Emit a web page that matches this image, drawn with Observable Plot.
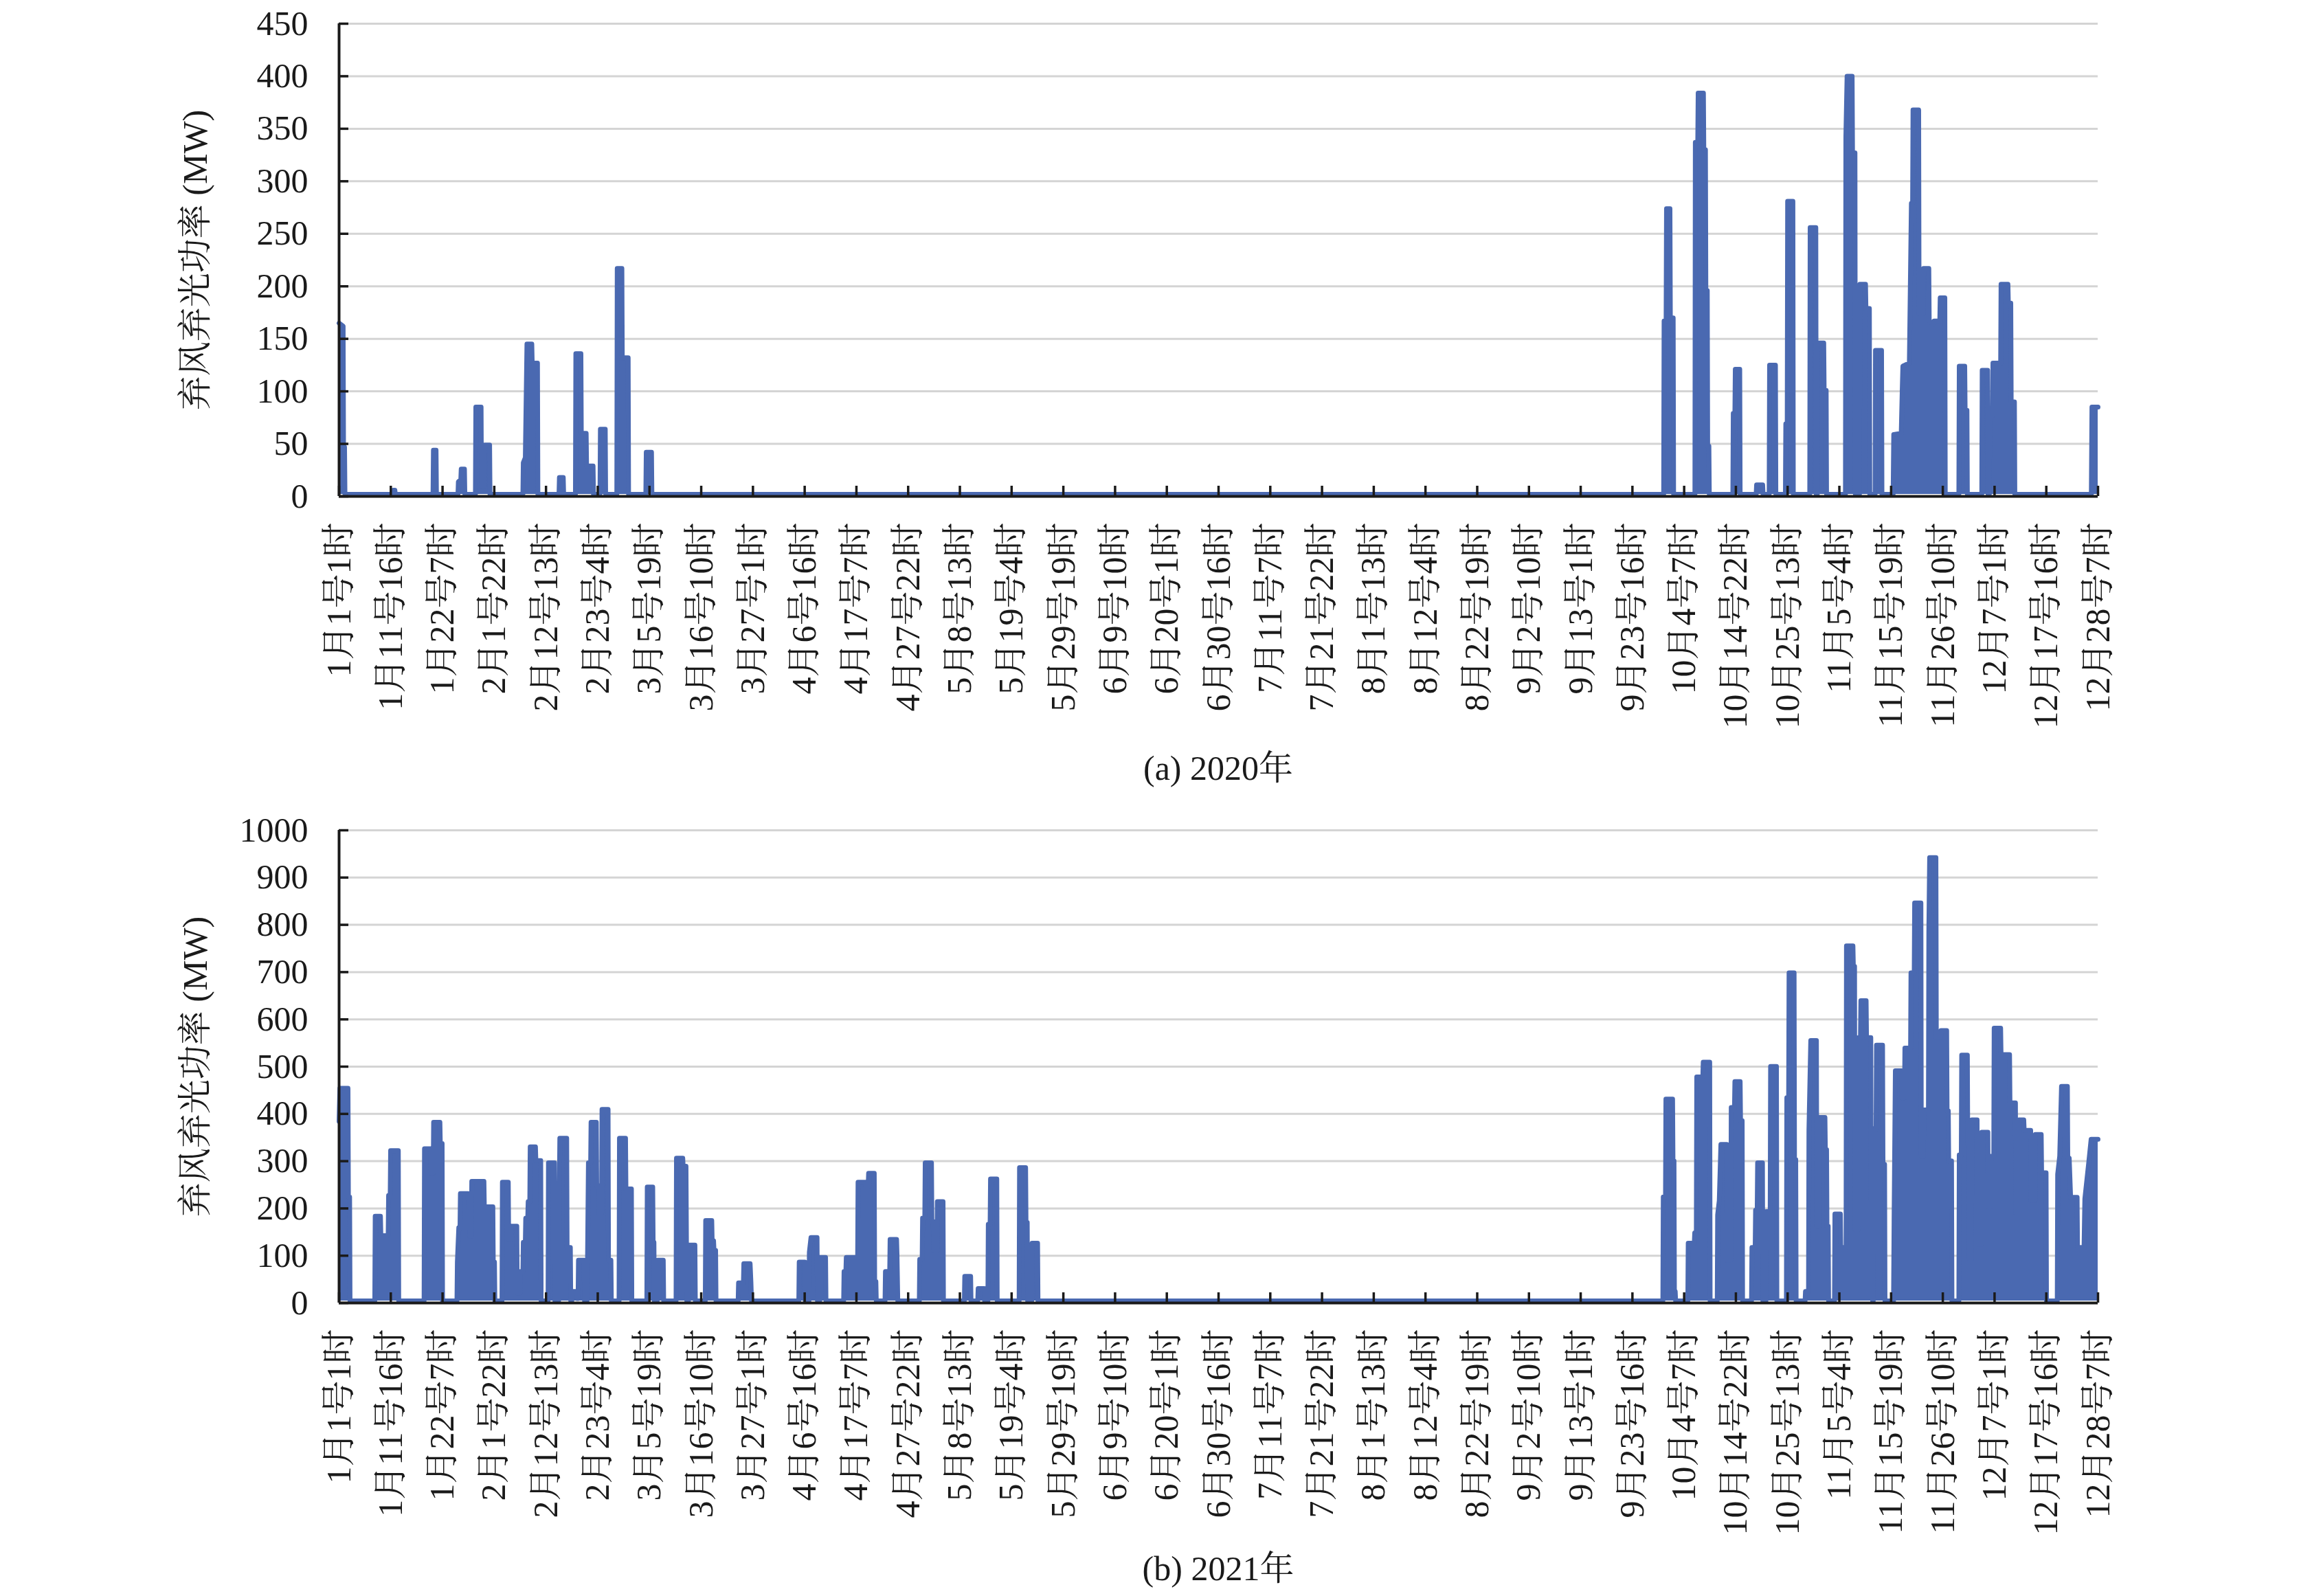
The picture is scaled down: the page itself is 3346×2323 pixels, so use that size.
<!DOCTYPE html>
<html>
<head>
<meta charset="utf-8">
<script src="https://cdn.jsdelivr.net/npm/d3@7"></script>
<script src="https://cdn.jsdelivr.net/npm/@observablehq/plot@0.6"></script>
<style>
html, body { margin: 0; padding: 0; background: #fff; }
#page { position: relative; width: 3346px; height: 2323px; overflow: hidden;
  font-family: "Liberation Serif", "Noto Serif CJK SC", "Noto Sans CJK SC", serif; color: #1a1a1a; }
.chart { position: absolute; left: 0; }
.cap { position: absolute; left: 493px; width: 2560px; text-align: center; font-size: 50px; line-height: 60px; }
</style>
</head>
<body>
<div id="page"></div>
<script>
// ---------- data ----------
const xTickHours = [0,255,510,765,1020,1275,1530,1785,2040,2295,2550,2805,3060,3315,3570,3825,4080,4335,4590,4845,5100,5355,5610,5865,6120,6375,6630,6885,7140,7395,7650,7905,8160,8415,8670];
const xTickLabels = ["1月1号1时","1月11号16时","1月22号7时","2月1号22时","2月12号13时","2月23号4时","3月5号19时","3月16号10时","3月27号1时","4月6号16时","4月17号7时","4月27号22时","5月8号13时","5月19号4时","5月29号19时","6月9号10时","6月20号1时","6月30号16时","7月11号7时","7月21号22时","8月1号13时","8月12号4时","8月22号19时","9月2号10时","9月13号1时","9月23号16时","10月4号7时","10月14号22时","10月25号13时","11月5号4时","11月15号19时","11月26号10时","12月7号1时","12月17号16时","12月28号7时"];
const yTicks2020 = [0,50,100,150,200,250,300,350,400,450];
const yTicks2021 = [0,100,200,300,400,500,600,700,800,900,1000];
const yTitle = "弃风弃光功率 (MW)";
const captions = ["(a) 2020年", "(b) 2021年"];

// [hour index, curtailed power MW]
const curtail2020 = [
 [0,163],[20,160],[22,45],[27,45],[29,0],
 [265,0],[267,4],[275,4],[277,0],
 [463,0],[465,42],[478,42],[480,0],
 [586,0],[588,12],[600,14],[602,24],[618,24],[620,0],
 [672,0],[674,83],[700,83],[702,8],[716,8],[718,47],[742,47],[744,0],
 [906,0],[908,30],[918,35],[926,143],[950,143],[952,125],[978,125],[980,0],
 [1084,0],[1086,16],[1105,16],[1107,0],
 [1165,0],[1167,134],[1192,134],[1194,58],[1218,58],[1220,27],[1252,27],[1254,0],
 [1286,0],[1288,62],[1312,62],[1314,0],
 [1369,0],[1371,215],[1394,215],[1396,130],[1425,130],[1427,0],
 [1512,0],[1514,40],[1540,40],[1542,0],
 [6529,0],[6531,165],[6541,165],[6543,272],[6560,272],[6562,168],[6576,168],[6578,0],
 [6683,0],[6685,335],[6697,335],[6699,382],[6725,382],[6727,328],[6735,328],[6737,194],[6744,194],[6746,46],[6752,46],[6754,0],
 [6870,0],[6872,77],[6880,77],[6882,119],[6904,119],[6906,0],
 [6985,0],[6987,9],[7017,9],[7019,0],
 [7049,0],[7051,123],[7080,123],[7082,0],
 [7129,0],[7131,67],[7138,67],[7140,279],[7166,279],[7168,0],
 [7249,0],[7251,254],[7279,254],[7281,0],
 [7286,0],[7288,144],[7318,144],[7320,99],[7330,99],[7332,0],
 [7425,0],[7427,340],[7433,398],[7458,398],[7460,325],[7472,325],[7474,0],
 [7494,0],[7496,200],[7524,200],[7526,177],[7543,177],[7545,0],
 [7571,0],[7573,137],[7603,137],[7605,0],
 [7660,0],[7663,57],[7700,58],[7705,100],[7708,122],[7740,125],[7750,277],[7756,277],[7758,366],[7786,366],[7788,172],[7808,172],[7810,215],[7836,215],[7838,165],[7860,162],[7862,165],[7890,165],[7892,187],[7915,187],[7917,0],
 [7984,0],[7986,122],[8013,122],[8015,80],[8024,80],[8026,0],
 [8097,0],[8099,118],[8126,118],[8128,0],
 [8134,0],[8136,75],[8150,75],[8152,125],[8190,125],[8192,200],[8226,200],[8228,182],[8240,182],[8242,88],[8258,88],[8260,0],
 [8637,0],[8640,83],[8670,83]
];

const curtail2021 = [
 [0,380],[4,450],[44,450],[46,220],[52,220],[54,0],
 [176,0],[178,179],[204,179],[206,138],[242,138],[244,223],[252,223],[254,318],[292,318],[294,0],
 [419,0],[421,322],[452,322],[454,271],[464,271],[466,378],[497,378],[499,333],[508,333],[510,0],
 [581,0],[583,82],[590,155],[596,155],[598,227],[636,227],[638,196],[642,196],[644,137],[652,137],[654,253],[714,253],[716,199],[758,199],[760,82],[766,82],[768,0],
 [803,0],[805,251],[834,251],[836,130],[846,130],[848,158],[876,158],[878,17],[892,17],[894,62],[906,62],[908,124],[918,124],[920,175],[930,175],[932,210],[940,210],[942,326],[968,326],[970,297],[994,297],[996,0],
 [1030,0],[1032,292],[1062,292],[1064,0],
 [1082,0],[1084,161],[1088,344],[1122,344],[1124,113],[1140,113],[1142,0],
 [1147,0],[1149,20],[1171,20],[1173,5],[1178,5],[1180,86],[1208,86],[1210,0],
 [1222,0],[1224,60],[1229,292],[1240,292],[1242,378],[1268,378],[1270,244],[1280,244],[1282,186],[1294,186],[1296,405],[1326,405],[1328,86],[1340,86],[1342,0],
 [1380,0],[1382,344],[1412,344],[1414,237],[1441,237],[1443,0],
 [1517,0],[1519,241],[1546,241],[1548,124],[1552,124],[1554,0],
 [1568,0],[1570,86],[1598,86],[1600,0],
 [1661,0],[1663,302],[1694,302],[1696,285],[1710,285],[1714,0],
 [1722,0],[1724,118],[1754,118],[1756,0],
 [1805,0],[1807,170],[1837,170],[1839,127],[1846,127],[1848,107],[1856,107],[1858,0],
 [1967,0],[1969,38],[1993,38],[1995,79],[2026,79],[2030,40],[2033,0],
 [2266,0],[2268,82],[2296,82],[2298,0],
 [2316,0],[2318,103],[2326,134],[2356,134],[2358,0],
 [2369,0],[2371,92],[2398,92],[2400,0],
 [2487,0],[2489,62],[2498,62],[2500,92],[2556,92],[2558,251],[2595,251],[2597,242],[2608,242],[2610,270],[2638,270],[2640,41],[2646,41],[2648,0],
 [2691,0],[2693,62],[2714,62],[2716,130],[2748,130],[2750,100],[2754,0],
 [2860,0],[2862,88],[2874,88],[2876,175],[2887,175],[2889,292],[2920,292],[2922,168],[2929,168],[2931,106],[2947,106],[2949,210],[2977,210],[2979,0],
 [3082,0],[3084,52],[3113,52],[3115,0],
 [3148,0],[3150,26],[3180,26],[3182,0],
 [3198,0],[3200,162],[3209,162],[3211,258],[3242,258],[3244,0],
 [3352,0],[3354,282],[3384,282],[3386,166],[3392,166],[3394,0],
 [3414,0],[3416,122],[3443,122],[3445,0],
 [6525,0],[6527,220],[6538,220],[6540,427],[6573,427],[6575,296],[6580,296],[6582,20],[6586,20],[6588,0],
 [6648,0],[6650,122],[6680,122],[6682,144],[6690,144],[6692,474],[6722,474],[6724,505],[6756,505],[6758,0],
 [6793,0],[6795,182],[6803,212],[6811,331],[6840,331],[6842,86],[6860,86],[6862,409],[6878,409],[6880,464],[6906,464],[6908,381],[6916,381],[6918,0],
 [6962,0],[6964,113],[6980,113],[6982,192],[6990,192],[6992,292],[7016,292],[7018,0],
 [7033,0],[7035,189],[7054,189],[7056,496],[7085,496],[7087,0],
 [7134,0],[7136,430],[7145,430],[7147,694],[7172,694],[7174,299],[7180,299],[7182,0],
 [7226,0],[7228,20],[7243,20],[7245,361],[7254,551],[7282,551],[7284,158],[7294,158],[7296,388],[7324,388],[7326,320],[7332,320],[7334,158],[7340,158],[7342,0],
 [7371,0],[7373,184],[7400,184],[7402,113],[7428,113],[7430,751],[7462,751],[7464,708],[7470,708],[7472,151],[7488,151],[7490,557],[7499,557],[7501,635],[7527,635],[7529,557],[7550,557],[7552,213],[7557,213],[7559,0],
 [7562,0],[7564,364],[7576,364],[7578,541],[7608,541],[7610,289],[7618,289],[7620,0],
 [7662,0],[7665,186],[7671,487],[7702,487],[7704,430],[7716,430],[7718,535],[7746,535],[7748,694],[7764,694],[7766,842],[7797,842],[7799,306],[7809,306],[7811,404],[7834,404],[7836,780],[7840,938],[7871,938],[7873,557],[7894,557],[7896,572],[7924,572],[7926,402],[7932,402],[7934,296],[7948,296],[7950,0],
 [7984,0],[7986,309],[7996,309],[7998,520],[8026,520],[8028,333],[8034,333],[8036,89],[8046,89],[8048,383],[8074,383],[8076,120],[8095,120],[8097,357],[8127,357],[8129,199],[8140,199],[8142,306],[8156,306],[8158,577],[8190,577],[8192,521],[8234,521],[8236,419],[8263,419],[8265,186],[8278,186],[8280,383],[8304,383],[8306,361],[8338,361],[8340,213],[8359,213],[8361,352],[8390,352],[8392,271],[8414,271],[8416,0],
 [8469,0],[8471,268],[8481,306],[8490,454],[8519,454],[8521,302],[8528,302],[8535,219],[8567,219],[8569,113],[8601,113],[8605,216],[8625,296],[8636,342],[8670,342]
];

// ---------- drawing ----------
const FONT = '"Liberation Serif", "Noto Serif CJK SC", "Noto Sans CJK SC", serif';
const BLUE = "#4a69b1";
const INK = "#1a1a1a";
const labelOf = new Map(xTickHours.map((h, i) => [h, xTickLabels[i]]));
const PLOT_LEFT = 493, PLOT_RIGHT = 3053;

function makeChart({series, yMax, yTicks, height, plotTop, plotBottom}) {
  const innerH = plotBottom - plotTop;
  const innerW = PLOT_RIGHT - PLOT_LEFT;
  const pts = series.map(([h, v]) => ({h, v}));
  return Plot.plot({
    width: 3346,
    height,
    marginLeft: PLOT_LEFT,
    marginRight: 3346 - PLOT_RIGHT,
    marginTop: plotTop,
    marginBottom: height - plotBottom,
    style: {fontFamily: FONT, fontSize: "50px", color: INK, background: "transparent", overflow: "visible"},
    x: {domain: [0, 8670]},
    y: {domain: [0, yMax]},
    marks: [
      Plot.ruleY(yTicks.filter(d => d > 0), {stroke: "#d4d4d4", strokeWidth: 3}),
      Plot.areaY(pts, {x: "h", y: "v", fill: BLUE, dy: -3}),
      Plot.line(pts, {x: "h", y: "v", stroke: BLUE, strokeWidth: 7, dy: -3}),
      Plot.ruleY(yTicks, {stroke: INK, strokeWidth: 3.5, insetRight: innerW - 14}),
      Plot.ruleX(xTickHours, {stroke: INK, strokeWidth: 3.5, insetTop: innerH - 15}),
      Plot.ruleX([0], {stroke: INK, strokeWidth: 4}),
      Plot.ruleY([0], {stroke: INK, strokeWidth: 4}),
      Plot.axisY(yTicks, {tickSize: 0, tickPadding: 45, label: null, fontSize: 50, fill: INK, tickFormat: d => String(d)}),
      Plot.axisX(xTickHours, {tickSize: 0, tickPadding: 38, tickRotate: -90, tickFormat: d => labelOf.get(d), label: null, fontSize: 50, fill: INK}),
      Plot.text([yTitle], {frameAnchor: "left", textAnchor: "middle", dx: -209, rotate: -90, fontSize: 50, fill: INK})
    ]
  });
}

const page = document.getElementById("page");

const c1 = makeChart({series: curtail2020, yMax: 450, yTicks: yTicks2020, height: 1120, plotTop: 34, plotBottom: 722});
c1.classList.add("chart");
c1.style.top = "0px";
page.appendChild(c1);

const c2 = makeChart({series: curtail2021, yMax: 1000, yTicks: yTicks2021, height: 1183, plotTop: 68, plotBottom: 756});
c2.classList.add("chart");
c2.style.top = "1140px";
page.appendChild(c2);

[[captions[0], 1088], [captions[1], 2253]].forEach(([t, top]) => {
  const d = document.createElement("div");
  d.className = "cap";
  d.style.top = top + "px";
  d.textContent = t;
  page.appendChild(d);
});
</script>
</body>
</html>
